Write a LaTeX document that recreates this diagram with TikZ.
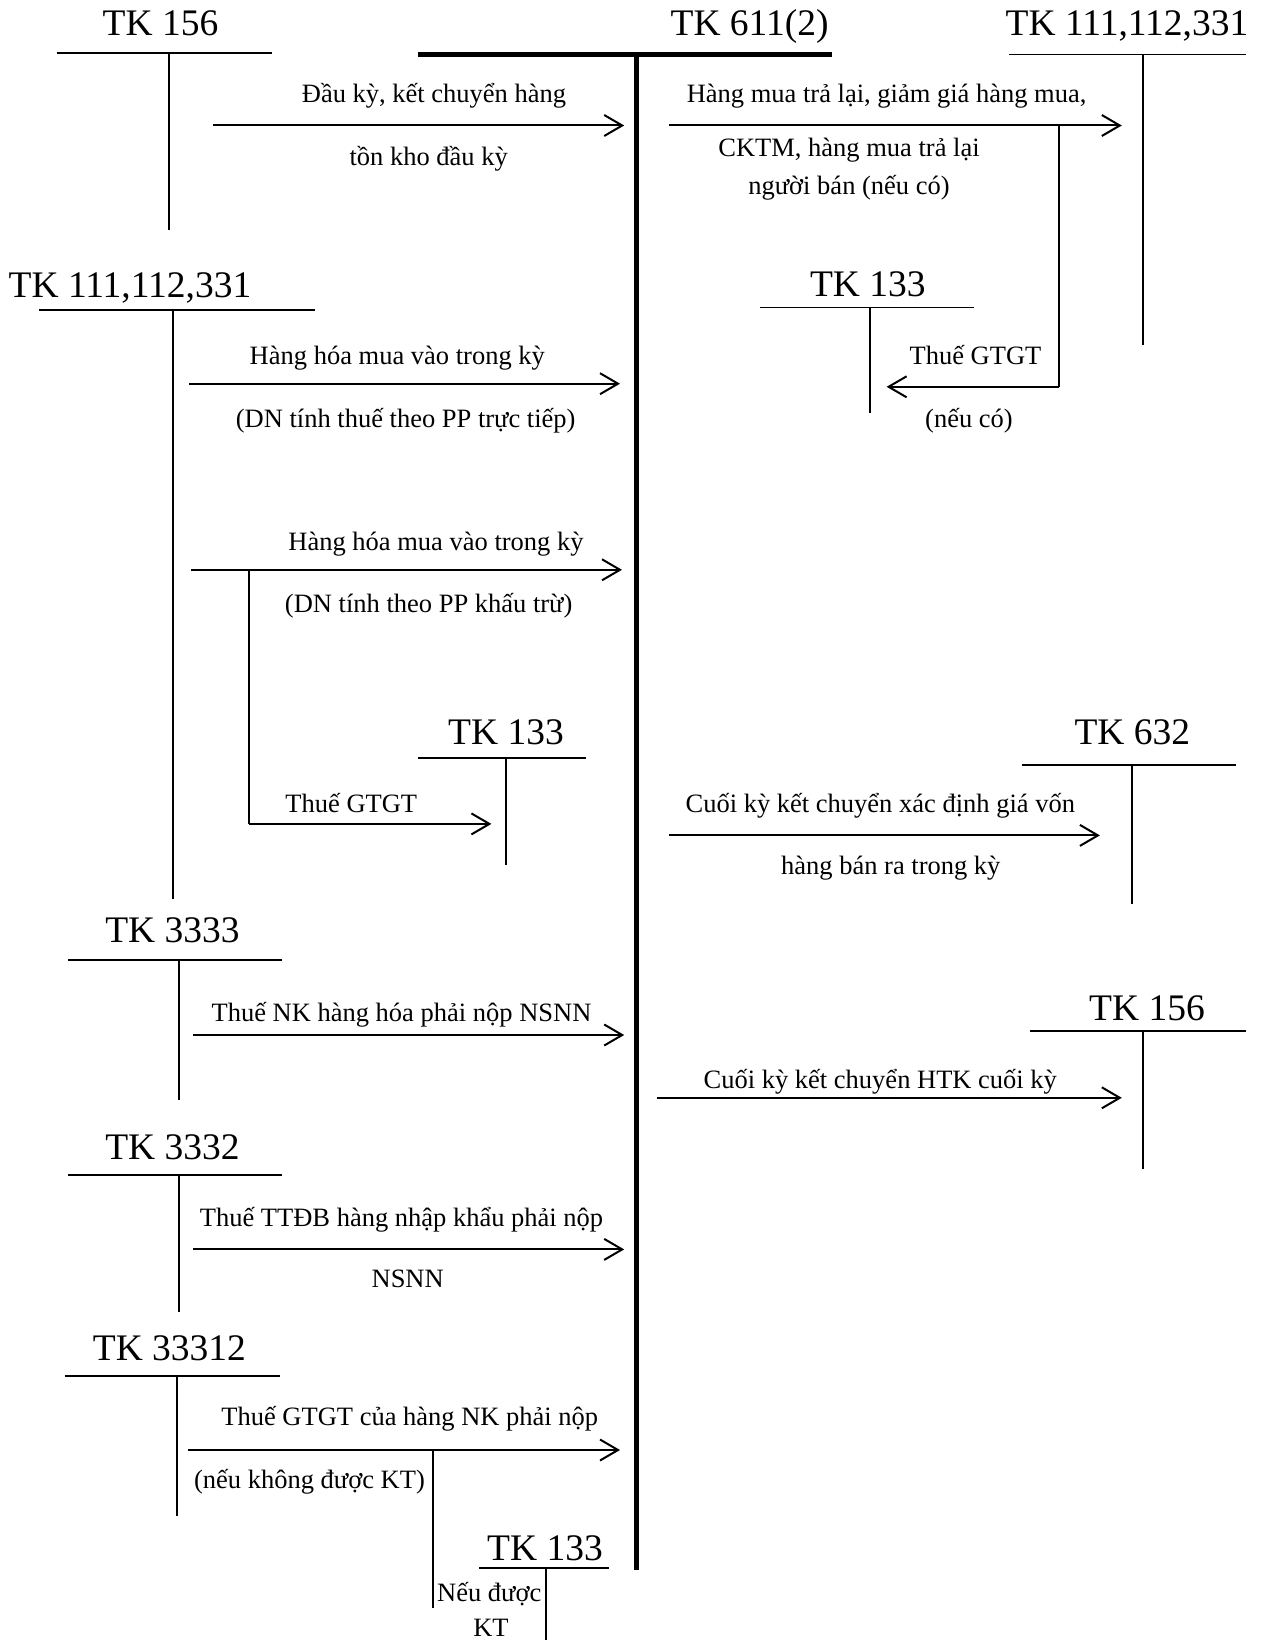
\documentclass[tikz,border=0pt]{standalone}
\usepackage{fontspec}
\setmainfont{Liberation Serif}
\usetikzlibrary{arrows.meta}
\begin{document}
\begin{tikzpicture}[x=1pt,y=-1pt,
  acct/.style={line width=1.7pt},
  mainacct/.style={line width=4.7pt},
  title/.style={anchor=base, inner sep=0pt, font=\fontsize{37.5}{41}\selectfont},
  lbl/.style={anchor=base, inner sep=0pt, font=\fontsize{26.5}{30}\selectfont},
  flow/.style={line width=2pt, -{Straight Barb[length=18pt,width=21pt,line width=2pt]}},
  tie/.style={line width=2pt}
]
\useasboundingbox (0,0) rectangle (1264,1640);

% ---------- main account TK 611(2)
\node[title] (tmain) at (749.6,36) {TK 611(2)};
\coordinate (mL) at (418,54.4);
\coordinate (mR) at (832,54.4);
\coordinate (mT) at (636.3,54.4);
\coordinate (mB) at (636.3,1570);
\draw[mainacct] (mL) -- (mR);
\draw[mainacct] (mT) -- (mB);

% ---------- TK 156 (top left)
\node[title] (ta) at (160.5,36) {TK 156};
\coordinate (aL) at (56.7,52.7); \coordinate (aR) at (272,52.7);
\coordinate (aT) at (168.7,52.7); \coordinate (aB) at (168.7,230);
\draw[acct] (aL) -- (aR); \draw[acct] (aT) -- (aB);

% ---------- TK 111,112,331 (top right)
\node[title] (tb) at (1127,36) {TK 111,112,331};
\coordinate (bL) at (1009,54.4); \coordinate (bR) at (1246,54.4);
\coordinate (bT) at (1142.7,54.4); \coordinate (bB) at (1142.7,345);
\draw[acct] (bL) -- (bR); \draw[acct] (bT) -- (bB);

% ---------- TK 133 (upper right)
\node[title] (tc) at (867.8,296.4) {TK 133};
\coordinate (cL) at (760,307.4); \coordinate (cR) at (974.4,307.4);
\coordinate (cT) at (869.9,307.4); \coordinate (cB) at (869.9,413);
\draw[acct] (cL) -- (cR); \draw[acct] (cT) -- (cB);

% ---------- TK 111,112,331 (left)
\node[title] (td) at (130,297.3) {TK 111,112,331};
\coordinate (dL) at (39,310); \coordinate (dR) at (315,310);
\coordinate (dT) at (172.7,310); \coordinate (dB) at (172.7,899);
\draw[acct] (dL) -- (dR); \draw[acct] (dT) -- (dB);

% ---------- TK 133 (middle left)
\node[title] (te) at (506,744) {TK 133};
\coordinate (eL) at (418.2,758); \coordinate (eR) at (585.5,758);
\coordinate (eT) at (506,758); \coordinate (eB) at (506,864.6);
\draw[acct] (eL) -- (eR); \draw[acct] (eT) -- (eB);

% ---------- TK 632
\node[title] (tf) at (1132.3,744) {TK 632};
\coordinate (fL) at (1021.5,765.3); \coordinate (fR) at (1235.8,765.3);
\coordinate (fT) at (1132.3,765.3); \coordinate (fB) at (1132.3,904.4);
\draw[acct] (fL) -- (fR); \draw[acct] (fT) -- (fB);

% ---------- TK 3333
\node[title] (tg) at (172.5,942.5) {TK 3333};
\coordinate (gL) at (68,959.8); \coordinate (gR) at (282.3,959.8);
\coordinate (gT) at (178.8,959.8); \coordinate (gB) at (178.8,1099.9);
\draw[acct] (gL) -- (gR); \draw[acct] (gT) -- (gB);

% ---------- TK 156 (right)
\node[title] (th) at (1147,1020) {TK 156};
\coordinate (hL) at (1029.8,1030.9); \coordinate (hR) at (1246.2,1030.9);
\coordinate (hT) at (1142.7,1030.9); \coordinate (hB) at (1142.7,1168.9);
\draw[acct] (hL) -- (hR); \draw[acct] (hT) -- (hB);

% ---------- TK 3332
\node[title] (ti) at (172.5,1159) {TK 3332};
\coordinate (iL) at (68,1175.1); \coordinate (iR) at (282.3,1175.1);
\coordinate (iT) at (178.8,1175.1); \coordinate (iB) at (178.8,1312);
\draw[acct] (iL) -- (iR); \draw[acct] (iT) -- (iB);

% ---------- TK 33312
\node[title] (tj) at (169.4,1360.7) {TK 33312};
\coordinate (jL) at (64.8,1375.9); \coordinate (jR) at (280.2,1375.9);
\coordinate (jT) at (176.7,1375.9); \coordinate (jB) at (176.7,1516);
\draw[acct] (jL) -- (jR); \draw[acct] (jT) -- (jB);

% ---------- TK 133 (bottom)
\node[title] (tk) at (545,1560) {TK 133};
\coordinate (kL) at (479,1567.7); \coordinate (kR) at (609,1567.7);
\coordinate (kT) at (545.7,1567.7); \coordinate (kB) at (545.7,1640);
\draw[acct] (kL) -- (kR); \draw[acct] (kT) -- (kB);

% ---------- flow 1
\coordinate (f1s) at (213.3,125.5); \coordinate (f1e) at (624.2,125.5);
\draw[flow] (f1s) -- (f1e);
\node[lbl] (l1a) at (434,103) {Đầu kỳ, kết chuyển hàng};
\node[lbl] (l1b) at (428.7,166) {tồn kho đầu kỳ};

% ---------- flow 2
\coordinate (f2s) at (669.3,125.5); \coordinate (f2e) at (1121.8,125.5);
\draw[flow] (f2s) -- (f2e);
\node[lbl] (l2a) at (886.6,103) {Hàng mua trả lại, giảm giá hàng mua,};
\node[lbl] (l2b) at (849,156.4) {CKTM, hàng mua trả lại};
\node[lbl] (l2c) at (849,194) {người bán (nếu có)};
\coordinate (f2j) at (1059,125.5); \coordinate (f2k) at (1059,386.8);
\coordinate (f2e2) at (886.6,386.8);
\draw[tie] (f2j) -- (f2k);
\draw[flow] (f2k) -- (f2e2);
\node[lbl] (l2d) at (975.5,364.5) {Thuế GTGT};
\node[lbl] (l2e) at (969,427) {(nếu có)};

% ---------- flow 3
\coordinate (f3s) at (189.2,383.7); \coordinate (f3e) at (620,383.7);
\draw[flow] (f3s) -- (f3e);
\node[lbl] (l3a) at (397.3,364.5) {Hàng hóa mua vào trong kỳ};
\node[lbl] (l3b) at (405.7,427) {(DN tính thuế theo PP trực tiếp)};

% ---------- flow 4
\coordinate (f4s) at (191.3,569.8); \coordinate (f4e) at (622,569.8);
\draw[flow] (f4s) -- (f4e);
\node[lbl] (l4a) at (436,550.6) {Hàng hóa mua vào trong kỳ};
\node[lbl] (l4b) at (428.7,612) {(DN tính theo PP khấu trừ)};
\coordinate (f4j) at (248.8,569.8); \coordinate (f4k) at (248.8,823.9);
\coordinate (f4e2) at (491.4,823.9);
\draw[tie] (f4j) -- (f4k);
\draw[flow] (f4k) -- (f4e2);
\node[lbl] (l4c) at (351.3,812) {Thuế GTGT};

% ---------- flow 5
\coordinate (f5s) at (669,835.4); \coordinate (f5e) at (1099.9,835.4);
\draw[flow] (f5s) -- (f5e);
\node[lbl] (l5a) at (880.3,812) {Cuối kỳ kết chuyển xác định giá vốn};
\node[lbl] (l5b) at (890.8,874.7) {hàng bán ra trong kỳ};

% ---------- flow 6
\coordinate (f6s) at (193.4,1035); \coordinate (f6e) at (624.2,1035);
\draw[flow] (f6s) -- (f6e);
\node[lbl] (l6a) at (401.5,1021) {Thuế NK hàng hóa phải nộp NSNN};

% ---------- flow 7
\coordinate (f7s) at (656.6,1097.8); \coordinate (f7e) at (1121.8,1097.8);
\draw[flow] (f7s) -- (f7e);
\node[lbl] (l7a) at (880.3,1088) {Cuối kỳ kết chuyển HTK cuối kỳ};

% ---------- flow 8
\coordinate (f8s) at (193.4,1249.4); \coordinate (f8e) at (624.2,1249.4);
\draw[flow] (f8s) -- (f8e);
\node[lbl] (l8a) at (401.5,1226) {Thuế TTĐB hàng nhập khẩu phải nộp};
\node[lbl] (l8b) at (407.7,1287.6) {NSNN};

% ---------- flow 9
\coordinate (f9s) at (188.2,1450); \coordinate (f9e) at (620,1450);
\draw[flow] (f9s) -- (f9e);
\node[lbl] (l9a) at (409.8,1425.7) {Thuế GTGT của hàng NK phải nộp};
\node[lbl] (l9b) at (309.5,1488) {(nếu không được KT)};
\coordinate (f9j) at (432.5,1450); \coordinate (f9k) at (432.5,1608);
\draw[tie] (f9j) -- (f9k);
\node[lbl] (l9c) at (489.3,1601.7) {Nếu được};
\node[lbl] (l9d) at (491,1636.7) {KT};

\end{tikzpicture}
\end{document}
